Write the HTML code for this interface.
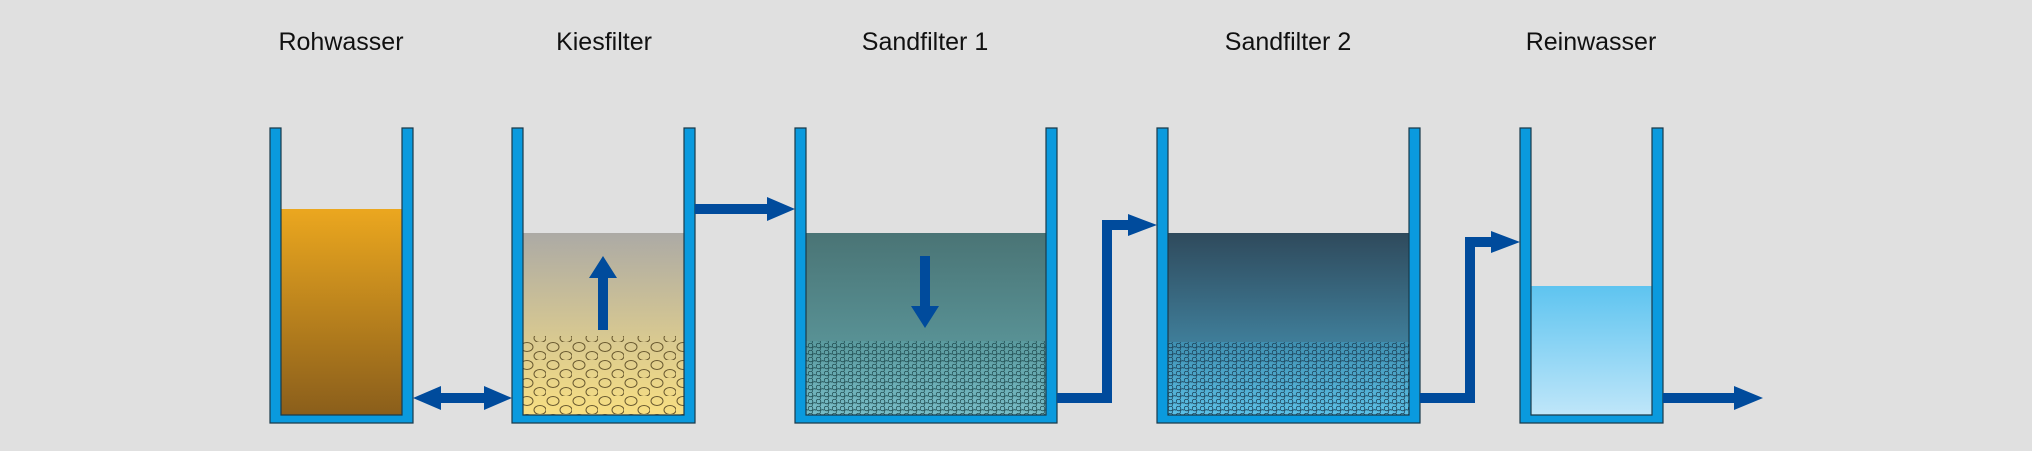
<!DOCTYPE html>
<html><head><meta charset="utf-8"><style>
html,body{margin:0;padding:0;background:#e0e0e0;}
svg{display:block}
text{font-family:"Liberation Sans",sans-serif;font-size:25px;fill:#111;text-anchor:middle}
</style></head><body>
<svg width="2032" height="451" viewBox="0 0 2032 451" xmlns="http://www.w3.org/2000/svg">
<defs>
<linearGradient id="g1" x1="0" y1="0" x2="0" y2="1"><stop offset="0" stop-color="#eba71f"/><stop offset="1" stop-color="#8a5e1b"/></linearGradient>
<linearGradient id="g2" x1="0" y1="0" x2="0" y2="1"><stop offset="0" stop-color="#acaaa5"/><stop offset="1" stop-color="#f8df82"/></linearGradient>
<linearGradient id="g3" x1="0" y1="0" x2="0" y2="1"><stop offset="0" stop-color="#4a7475"/><stop offset="1" stop-color="#62a5aa"/></linearGradient>
<linearGradient id="g4" x1="0" y1="0" x2="0" y2="1"><stop offset="0" stop-color="#2f4a5c"/><stop offset="1" stop-color="#4aa0c2"/></linearGradient>
<linearGradient id="g5" x1="0" y1="0" x2="0" y2="1"><stop offset="0" stop-color="#5ec4f0"/><stop offset="1" stop-color="#bfe6f9"/></linearGradient>
<pattern id="p2" width="26" height="18" patternUnits="userSpaceOnUse">
<ellipse cx="7" cy="5" rx="6" ry="4.5" fill="none" stroke="#6a5a30" stroke-width="1"/>
<ellipse cx="20" cy="14" rx="6" ry="4.5" fill="none" stroke="#6a5a30" stroke-width="1"/>
</pattern>
<pattern id="p3" width="8" height="7" patternUnits="userSpaceOnUse">
<circle cx="2.5" cy="2.5" r="2.3" fill="none" stroke="#1f4a4e" stroke-width="0.8"/>
<circle cx="6.5" cy="6" r="2.3" fill="none" stroke="#1f4a4e" stroke-width="0.8"/>
</pattern>
<pattern id="p4" width="8" height="7" patternUnits="userSpaceOnUse">
<circle cx="2.5" cy="2.5" r="2.3" fill="none" stroke="#1b3f55" stroke-width="0.8"/>
<circle cx="6.5" cy="6" r="2.3" fill="none" stroke="#1b3f55" stroke-width="0.8"/>
</pattern>
<linearGradient id="b3" x1="0" y1="0" x2="0" y2="1"><stop offset="0" stop-color="#5a9a9e"/><stop offset="1" stop-color="#78bcc6"/></linearGradient>
<linearGradient id="b4" x1="0" y1="0" x2="0" y2="1"><stop offset="0" stop-color="#3f8fb0"/><stop offset="1" stop-color="#5cc0e6"/></linearGradient>
</defs>

<text x="341" y="50">Rohwasser</text>
<text x="604" y="50">Kiesfilter</text>
<text x="925" y="50">Sandfilter 1</text>
<text x="1288" y="50">Sandfilter 2</text>
<text x="1591" y="50">Reinwasser</text>

<rect x="281" y="209" width="121" height="206" fill="url(#g1)"/>
<rect x="523" y="233" width="161" height="182" fill="url(#g2)"/>
<rect x="523" y="336" width="161" height="79" fill="url(#p2)"/>
<rect x="806" y="233" width="240" height="182" fill="url(#g3)"/>
<rect x="806" y="341" width="240" height="74" fill="url(#b3)"/>
<rect x="806" y="341" width="240" height="74" fill="url(#p3)"/>
<rect x="1168" y="233" width="241" height="182" fill="url(#g4)"/>
<rect x="1168" y="342" width="241" height="73" fill="url(#b4)"/>
<rect x="1168" y="342" width="241" height="73" fill="url(#p4)"/>
<rect x="1531" y="286" width="121" height="129" fill="url(#g5)"/>

<g fill="#0a9ade" stroke="#1a3a4a" stroke-width="1.2">
<path d="M270 128V423H413V128H402V415H281V128Z"/>
<path d="M512 128V423H695V128H684V415H523V128Z"/>
<path d="M795 128V423H1057V128H1046V415H806V128Z"/>
<path d="M1157 128V423H1420V128H1409V415H1168V128Z"/>
<path d="M1520 128V423H1663V128H1652V415H1531V128Z"/>
</g>

<g fill="#004b9c">
<path d="M413 398L441 386V393H484V386L512 398L484 410V403H441V410Z"/>
<path d="M603 256L617 278H608V330H598V278H589Z"/>
<path d="M695 204H767V197L795 209L767 221V214H695Z"/>
<path d="M920 256H930V306H939L925 328L911 306H920Z"/>
<path d="M1057 393H1102V220H1128V214L1157 225L1128 236V230H1112V403H1057Z"/>
<path d="M1420 393H1465V237H1491V231L1520 242L1491 253V247H1475V403H1420Z"/>
<path d="M1663 393H1734V386L1763 398L1734 410V403H1663Z"/>
</g>
</svg>
</body></html>
